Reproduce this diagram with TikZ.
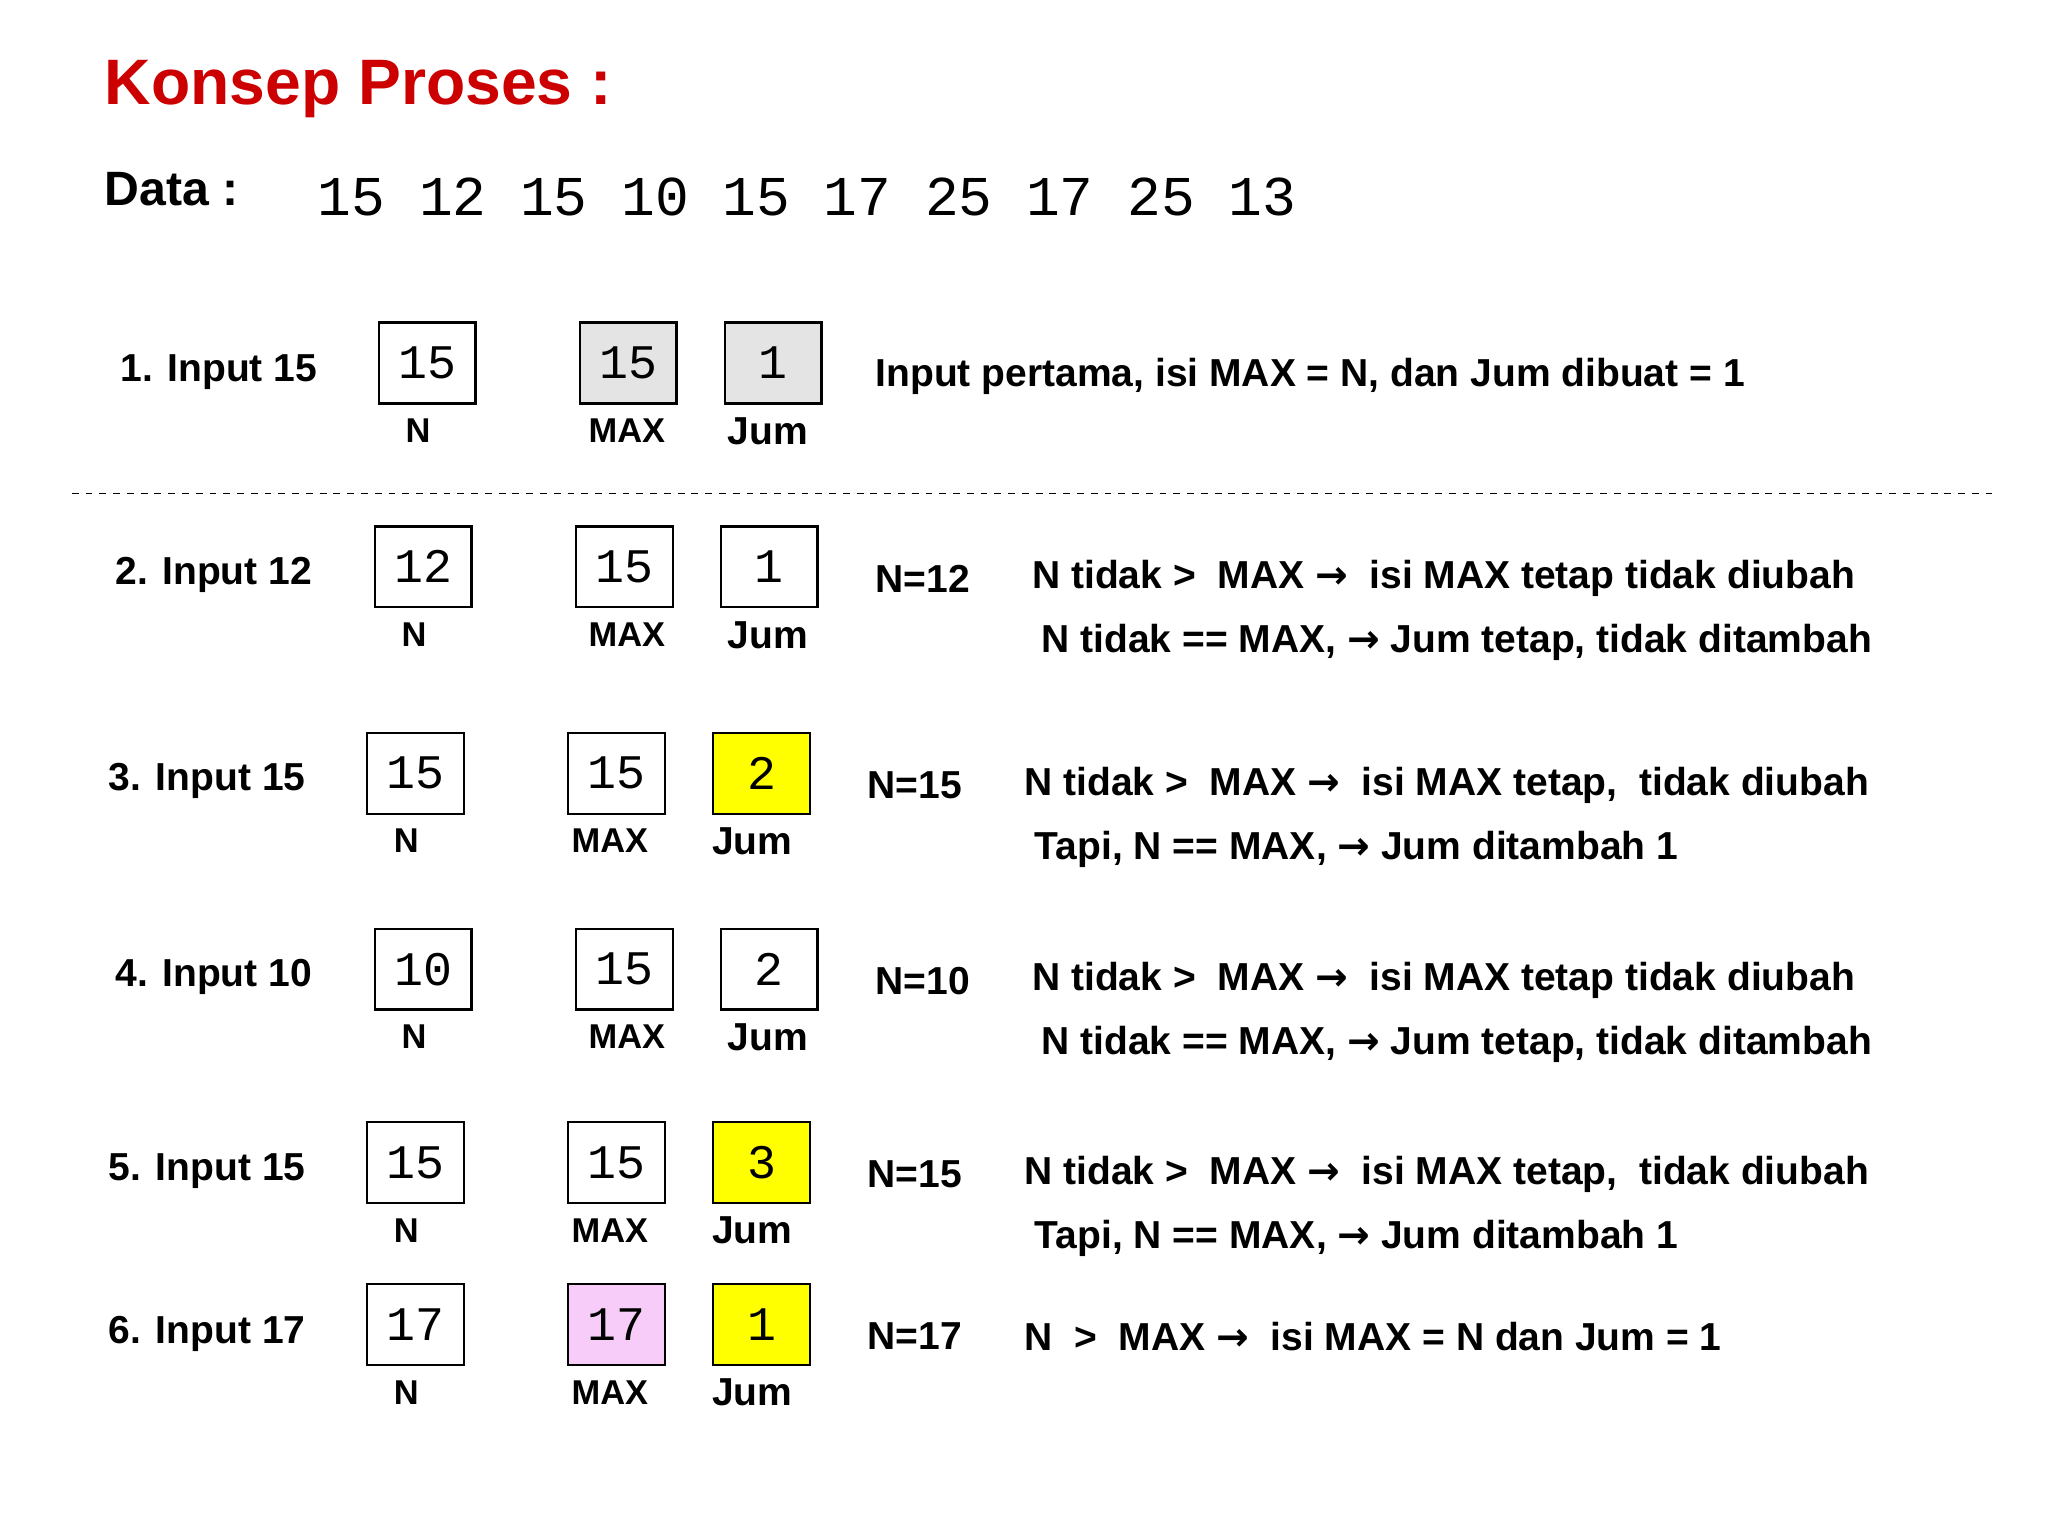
\documentclass[tikz,border=0pt]{standalone}
\usepackage{fontspec}
\setmainfont{Liberation Sans}
\newfontfamily\monof{Liberation Mono}
\newfontfamily\arrf{DejaVu Sans}
\newcommand{\ar}{{\arrf\bfseries →}}
\definecolor{titlered}{HTML}{CC0000}
\definecolor{gbox}{HTML}{E4E4E4}
\definecolor{ybox}{HTML}{FFFF00}
\definecolor{pbox}{HTML}{F8CCF8}
\tikzset{
 vbox/.style={draw,line width=1pt,minimum width=1.48cm,minimum height=1.24cm,inner sep=0pt,font=\monof\fontsize{21}{21}\selectfont},
 vlab/.style={font=\bfseries\fontsize{15}{15}\selectfont,inner sep=0pt},
 rlab/.style={anchor=west,font=\bfseries\fontsize{17}{17}\selectfont,inner sep=0pt},
 desc/.style={anchor=west,font=\bfseries\fontsize{17}{17}\selectfont,inner sep=0pt},
}
\begin{document}
\begin{tikzpicture}[x=0.02cm,y=-0.02cm]
\useasboundingbox (0,0) rectangle (1568,1176);
\node[anchor=west,text=titlered,font=\bfseries\fontsize{28}{28}\selectfont,inner sep=0pt] (title) at (80,68) {Konsep Proses :};
\node[anchor=west,font=\bfseries\fontsize{21}{21}\selectfont,inner sep=0pt] (data) at (80,145) {Data :};
\node[anchor=west,font=\monof\fontsize{24.5}{24.5}\selectfont,inner sep=0pt] (nums) at (243,151) {15 12 15 10 15 17 25 17 25 13};
% row 1
\node[rlab] (l1) at (92,285) {1. Input 15};
\node[vbox] (n1) at (327,278) {15};
\node[vbox,fill=gbox] (m1) at (481,278) {15};
\node[vbox,fill=gbox] (j1) at (592,278) {1};
\node[vlab] (nl1) at (320,330) {N};
\node[vlab] (ml1) at (480,330) {MAX};
\node[vlab,font=\bfseries\fontsize{17}{17}\selectfont] (jl1) at (588,330) {Jum};
\node[desc] (d1) at (670,288) {Input pertama, isi MAX = N, dan Jum dibuat = 1};
\coordinate (dl) at (55,378); \coordinate (dr) at (1525,378);
\draw[dashed,line width=0.6pt] (dl) -- (dr);
% row 2
\node[rlab] (l2) at (88,440) {2. Input 12};
\node[vbox] (n2) at (324,434) {12};
\node[vbox] (m2) at (478,434) {15};
\node[vbox] (j2) at (589,434) {1};
\node[vlab] (nl2) at (317,486) {N};
\node[vlab] (ml2) at (480,486) {MAX};
\node[vlab,font=\bfseries\fontsize{17}{17}\selectfont] (jl2) at (588,486) {Jum};
\node[desc] (e2) at (670,443) {N=12};
\node[desc] (d2) at (790,443) {N tidak >\ \ MAX \ar\ \ isi MAX tetap tidak diubah};
\node[desc] (f2) at (797,492) {N tidak == MAX, \ar\ Jum tetap, tidak ditambah};
% row 3
\node[rlab] (l3) at (83,598) {3. Input 15};
\node[vbox] (n3) at (318,592) {15};
\node[vbox] (m3) at (472,592) {15};
\node[vbox,fill=ybox] (j3) at (583,592) {2};
\node[vlab] (nl3) at (311,644) {N};
\node[vlab] (ml3) at (467,644) {MAX};
\node[vlab,font=\bfseries\fontsize{17}{17}\selectfont] (jl3) at (576,644) {Jum};
\node[desc] (e3) at (664,601) {N=15};
\node[desc] (d3) at (784,601) {N tidak >\ \ MAX \ar\ \ isi MAX tetap,\ \ tidak diubah};
\node[desc] (f3) at (792,650) {Tapi, N == MAX, \ar\ Jum ditambah 1};
% row 4
\node[rlab] (l4) at (88,748) {4. Input 10};
\node[vbox] (n4) at (324,742) {10};
\node[vbox] (m4) at (478,742) {15};
\node[vbox] (j4) at (589,742) {2};
\node[vlab] (nl4) at (317,794) {N};
\node[vlab] (ml4) at (480,794) {MAX};
\node[vlab,font=\bfseries\fontsize{17}{17}\selectfont] (jl4) at (588,794) {Jum};
\node[desc] (e4) at (670,751) {N=10};
\node[desc] (d4) at (790,751) {N tidak >\ \ MAX \ar\ \ isi MAX tetap tidak diubah};
\node[desc] (f4) at (797,800) {N tidak == MAX, \ar\ Jum tetap, tidak ditambah};
% row 5
\node[rlab] (l5) at (83,897) {5. Input 15};
\node[vbox] (n5) at (318,890) {15};
\node[vbox] (m5) at (472,890) {15};
\node[vbox,fill=ybox] (j5) at (583,890) {3};
\node[vlab] (nl5) at (311,942) {N};
\node[vlab] (ml5) at (467,942) {MAX};
\node[vlab,font=\bfseries\fontsize{17}{17}\selectfont] (jl5) at (576,942) {Jum};
\node[desc] (e5) at (664,899) {N=15};
\node[desc] (d5) at (784,899) {N tidak >\ \ MAX \ar\ \ isi MAX tetap,\ \ tidak diubah};
\node[desc] (f5) at (792,948) {Tapi, N == MAX, \ar\ Jum ditambah 1};
% row 6
\node[rlab] (l6) at (83,1021) {6. Input 17};
\node[vbox] (n6) at (318,1014) {17};
\node[vbox,fill=pbox] (m6) at (472,1014) {17};
\node[vbox,fill=ybox] (j6) at (583,1014) {1};
\node[vlab] (nl6) at (311,1066) {N};
\node[vlab] (ml6) at (467,1066) {MAX};
\node[vlab,font=\bfseries\fontsize{17}{17}\selectfont] (jl6) at (576,1066) {Jum};
\node[desc] (e6) at (664,1023) {N=17};
\node[desc] (d6) at (784,1023) {N\ \ >\ \ MAX \ar\ \ isi MAX = N dan Jum = 1};
\end{tikzpicture}
\end{document}
